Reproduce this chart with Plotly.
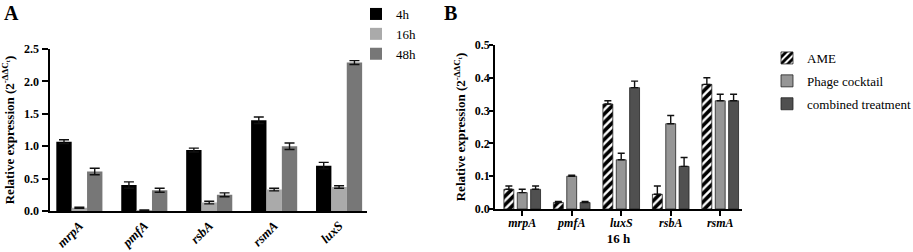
import plotly.graph_objects as go

FONT = "Liberation Serif"

# Panel A data
genes_a = ["mrpA", "pmfA", "rsbA", "rsmA", "luxS"]
h4 = [1.07, 0.40, 0.94, 1.40, 0.70]
h4_err = [0.03, 0.05, 0.03, 0.05, 0.05]
h16 = [0.05, 0.01, 0.13, 0.33, 0.37]
h16_err = [0.01, 0.005, 0.02, 0.02, 0.02]
h48 = [0.61, 0.32, 0.25, 1.00, 2.29]
h48_err = [0.05, 0.03, 0.03, 0.05, 0.03]

# Panel B data
genes_b = ["mrpA", "pmfA", "luxS", "rsbA", "rsmA"]
ame = [0.06, 0.02, 0.32, 0.045, 0.38]
ame_err = [0.01, 0.003, 0.01, 0.025, 0.02]
phage = [0.05, 0.10, 0.15, 0.26, 0.33]
phage_err = [0.01, 0.003, 0.02, 0.025, 0.02]
combined = [0.06, 0.02, 0.37, 0.13, 0.33]
combined_err = [0.01, 0.003, 0.02, 0.027, 0.02]

W, H = 913, 252
fig = go.Figure()

def eb(arr, sym=True, w=5):
    d = dict(type="data", array=arr, color="#111111", thickness=1.4, width=w, visible=True)
    if not sym:
        d["symmetric"] = False
        d["arrayminus"] = [0] * len(arr)
    return d

for name, vals, errs, col in [("4h", h4, h4_err, "#000000"),
                              ("16h", h16, h16_err, "#aaaaaa"),
                              ("48h", h48, h48_err, "#777777")]:
    fig.add_trace(go.Bar(x=genes_a, y=vals, name=name, marker=dict(color=col, line=dict(width=0)),
                         error_y=eb(errs), xaxis="x", yaxis="y", legend="legend"))

specs_b = [("AME", ame, ame_err, "white", -0.37,
            dict(shape="/", fgcolor="black", bgcolor="white", fgopacity=1, size=6, solidity=0.6)),
           ("Phage cocktail", phage, phage_err, "#969696", -0.10, None),
           ("combined treatment", combined, combined_err, "#505050", 0.17, None)]
for name, vals, errs, col, off, pat in specs_b:
    m = dict(color=col, line=dict(color="#222222", width=0.8))
    if pat:
        m["pattern"] = pat
    fig.add_trace(go.Bar(x=genes_b, y=vals, name=name, marker=m, width=0.2, offset=off,
                         error_y=eb(errs, sym=False, w=3.5), xaxis="x2", yaxis="y2",
                         legend="legend2", legendgroup=name))

ytitle = "<b>Relative expression (2<sup>-ΔΔC<sub>t</sub></sup>)</b>"
bold = dict(family=FONT, size=12, weight="bold")
boldit = dict(family=FONT, size=12, weight="bold", style="italic")
boldit_a = dict(family=FONT, size=13, weight="bold", style="italic")

fig.update_layout(
    width=W, height=H,
    margin=dict(l=0, r=0, t=0, b=0, pad=0, autoexpand=False),
    paper_bgcolor="white", plot_bgcolor="white",
    font=dict(family=FONT, color="black"),
    barmode="group", bargap=0.29, bargroupgap=0,
    showlegend=True,
    xaxis=dict(domain=[49.5 / W, 367 / W], range=[-0.46, 4.43], anchor="y",
               showline=True, linewidth=2, linecolor="black", ticks="",
               tickangle=-45, tickfont=boldit_a, automargin=False,
               showgrid=False, zeroline=False),
    yaxis=dict(domain=[1 - 211 / H, 1 - 49 / H], range=[0, 2.5], anchor="x",
               showline=True, linewidth=2, linecolor="black", ticks="outside", ticklen=6,
               tickwidth=1.5, tickcolor="black", dtick=0.5, tickformat=".1f",
               tickfont=bold, automargin=False,
               title=dict(text=ytitle, font=dict(size=13, family=FONT), standoff=7),
               showgrid=False, zeroline=False),
    xaxis2=dict(domain=[495 / W, 742 / W], range=[-0.55, 4.44], anchor="y2",
                showline=True, linewidth=1.6, linecolor="black", ticks="outside", ticklen=5,
                tickwidth=1.5, tickcolor="black", automargin=False, ticklabelstandoff=-3,
                tickfont=boldit,
                title=dict(text="<b>16 h</b>", font=dict(size=13, family=FONT), standoff=5),
                showgrid=False, zeroline=False),
    yaxis2=dict(domain=[1 - 209 / H, 1 - 45 / H], range=[0, 0.5], anchor="x2",
                showline=True, linewidth=1.6, linecolor="black", ticks="outside", ticklen=4,
                tickwidth=1.5, tickcolor="black", dtick=0.1, tickformat=".1f",
                tickfont=bold, automargin=False, ticklabelstandoff=-3,
                title=dict(text=ytitle, font=dict(size=13, family=FONT), standoff=6),
                showgrid=False, zeroline=False),
    legend=dict(x=356 / W, y=1 + 1 / H, xanchor="left", yanchor="top",
                font=dict(size=13, family=FONT), bgcolor="rgba(0,0,0,0)",
                tracegroupgap=0, itemclick=False),
    legend2=dict(x=767 / W, y=1 - 43 / H, xanchor="left", yanchor="top",
                 font=dict(size=13, family=FONT), bgcolor="rgba(0,0,0,0)",
                 tracegroupgap=3, itemclick=False),
    annotations=[
        dict(text="<b>A</b>", x=2 / W, y=1, xref="paper", yref="paper",
             xanchor="left", yanchor="top", showarrow=False, font=dict(size=20, family=FONT)),
        dict(text="<b>B</b>", x=442 / W, y=1, xref="paper", yref="paper",
             xanchor="left", yanchor="top", showarrow=False, font=dict(size=20, family=FONT)),
    ],
)

fig.write_html("out.html", config=dict(displayModeBar=False),
               post_script="document.body.style.margin='0';document.body.style.padding='0';"
                           "document.documentElement.style.overflow='hidden';")
